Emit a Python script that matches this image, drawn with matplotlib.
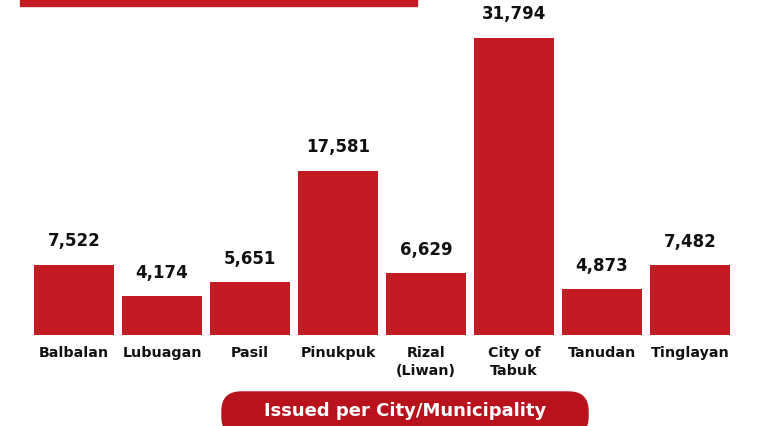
import matplotlib.pyplot as plt
from matplotlib.patches import FancyBboxPatch, Rectangle

places = ['Balbalan', 'Lubuagan', 'Pasil', 'Pinukpuk', 'Rizal\n(Liwan)',
          'City of\nTabuk', 'Tanudan', 'Tinglayan']
issued = [7522, 4174, 5651, 17581, 6629, 31794, 4873, 7482]
footer = 'Issued per City/Municipality'

bar_red = '#c41a24'
pill_red = '#b8131c'
plt.rcParams['font.family'] = ['DejaVu Sans']

fig = plt.figure(figsize=(7.64, 4.27), dpi=100)
W, H = 764, 427
# axes: x from 30 to 734 px, y from 0 to 336 px (top origin)
ax = fig.add_axes([30 / W, (H - 336) / H, 704 / W, 336 / H])

x = list(range(len(places)))
ax.bar(x, issued, width=80 / 88, color=bar_red)
ax.set_xlim(-0.5, len(places) - 0.5)
ax.set_ylim(0, 35936)

for xi, v in zip(x, issued):
    ax.annotate(f'{v:,}', (xi, v), xytext=(0, 11), textcoords='offset points',
                ha='center', va='bottom', fontsize=12, fontweight='bold',
                color='#111111')

ax.set_xticks(x)
ax.set_xticklabels(places, fontsize=10.3, fontweight='bold', color='#111111',
                   linespacing=1.35, va='top')
ax.tick_params(axis='x', length=0, pad=7)
ax.set_yticks([])
for s in ax.spines.values():
    s.set_visible(False)

# header banner cut off at top
fig.patches.append(Rectangle((20 / W, 1 - 7 / H), 397 / W, 7 / H,
                             transform=fig.transFigure, color=bar_red))

# footer pill
fig.patches.append(FancyBboxPatch((222 / W, -10 / H), 366 / W, 44 / H,
                                  boxstyle='round,pad=0,rounding_size=0.025',
                                  transform=fig.transFigure, color=pill_red,
                                  mutation_aspect=W / H))
fig.text(405 / W, (H - 411) / H, footer, ha='center', va='center',
         fontsize=13, fontweight='bold', color='white')

fig.savefig('out.png', dpi=100)
